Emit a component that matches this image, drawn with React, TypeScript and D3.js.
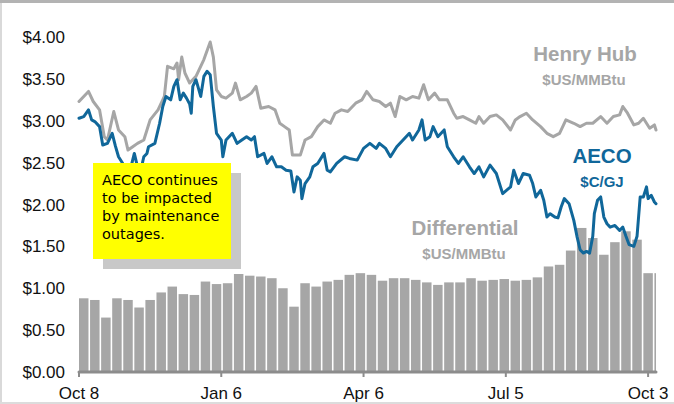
import React from 'react';
import * as d3 from 'd3';

// Time window: Oct 8 2018 to Oct 8 2019 (day offsets from start)
const START = new Date(2018, 9, 8);
const END_DAY = 365;
const xTickDays = [0, 90, 180, 270, 360];
const xTickLabels = ['Oct 8', 'Jan 6', 'Apr 6', 'Jul 5', 'Oct 3'];
const yTicks = [0, 0.5, 1, 1.5, 2, 2.5, 3, 3.5, 4];

// Henry Hub, $US/MMBtu
const hhDays = [0, 6, 9, 13, 16, 18, 22, 25, 29, 31, 34, 37, 41, 43, 45, 50, 54, 56, 60, 62, 63, 65, 67, 70, 74, 79, 83, 85, 87, 90, 93, 97, 99, 102, 106, 109, 112, 115, 120, 124, 127, 130, 133, 135, 140, 143, 147, 151, 155, 159, 162, 166, 170, 175, 179, 182, 186, 190, 194, 197, 200, 203, 207, 211, 215, 218, 221, 225, 228, 233, 237, 239, 243, 247, 251, 253, 256, 260, 264, 268, 273, 276, 279, 283, 287, 292, 296, 300, 304, 308, 313, 317, 321, 325, 330, 334, 338, 342, 344, 347, 351, 354, 357, 361, 364, 365];
const hhPrice = [3.23, 3.35, 3.23, 3.13, 2.81, 2.77, 3.11, 2.89, 2.81, 2.65, 2.69, 2.73, 2.77, 2.89, 3.01, 3.13, 3.29, 3.65, 3.62, 3.69, 3.49, 3.76, 3.57, 3.45, 3.53, 3.73, 3.94, 3.76, 3.37, 3.29, 3.27, 3.33, 3.45, 3.25, 3.29, 3.33, 3.41, 3.15, 3.17, 3.13, 2.97, 2.93, 2.89, 2.59, 2.59, 2.77, 2.81, 2.93, 3.01, 2.97, 3.09, 3.13, 3.11, 3.21, 3.25, 3.35, 3.25, 3.23, 3.17, 3.21, 3.05, 3.29, 3.25, 3.29, 3.27, 3.43, 3.25, 3.33, 3.25, 3.25, 3.09, 3.03, 3.05, 3.01, 2.97, 3.05, 2.97, 3.05, 3.07, 3.01, 2.89, 3.01, 3.05, 3.09, 3.01, 2.93, 2.85, 2.81, 2.85, 3.01, 2.97, 2.93, 2.97, 2.97, 3.05, 2.97, 3.05, 3.07, 3.17, 3.09, 2.95, 2.97, 3.03, 2.91, 2.95, 2.89];

// AECO, $C/GJ
const aecoDays = [0, 3, 6, 8, 10, 13, 15, 18, 21, 23, 25, 27, 29, 32, 35, 37, 39, 41, 43, 44, 48, 51, 53, 55, 58, 60, 62, 64, 66, 68, 70, 71, 72, 74, 77, 79, 81, 83, 85, 87, 90, 91, 93, 97, 100, 103, 106, 109, 111, 113, 117, 119, 122, 125, 128, 131, 134, 136, 138, 140, 141, 143, 146, 148, 151, 155, 157, 159, 163, 168, 171, 176, 180, 184, 188, 190, 194, 197, 201, 205, 209, 211, 215, 217, 219, 222, 224, 227, 231, 233, 237, 240, 243, 247, 250, 253, 256, 260, 264, 268, 273, 275, 278, 281, 285, 287, 289, 292, 294, 296, 298, 301, 303, 305, 307, 310, 313, 315, 317, 319, 321, 323, 325, 326, 328, 330, 331, 332, 334, 336, 339, 342, 344, 346, 348, 351, 353, 355, 357, 359, 360, 362, 364, 365];
const aecoPrice = [3.03, 3.05, 3.13, 3.01, 2.99, 2.93, 2.71, 2.73, 2.85, 2.7, 2.57, 2.51, 2.45, 2.38, 2.61, 2.45, 2.4, 2.57, 2.61, 2.69, 2.73, 2.97, 3.17, 3.29, 3.25, 3.41, 3.49, 3.25, 3.33, 3.27, 3.2, 3.09, 3.41, 3.49, 3.29, 3.53, 3.59, 3.55, 3.17, 2.85, 2.77, 2.57, 2.77, 2.85, 2.73, 2.77, 2.81, 2.77, 2.81, 2.57, 2.61, 2.49, 2.57, 2.45, 2.45, 2.41, 2.4, 2.15, 2.33, 2.29, 2.07, 2.25, 2.33, 2.45, 2.49, 2.61, 2.41, 2.39, 2.49, 2.57, 2.55, 2.53, 2.67, 2.73, 2.67, 2.73, 2.67, 2.57, 2.69, 2.77, 2.85, 2.77, 2.89, 3.01, 2.77, 2.81, 2.93, 2.81, 2.89, 2.69, 2.57, 2.49, 2.57, 2.45, 2.37, 2.45, 2.33, 2.47, 2.37, 2.13, 2.21, 2.41, 2.25, 2.37, 2.35, 2.25, 2.09, 2.17, 2.05, 1.85, 1.89, 1.85, 1.84, 1.97, 2.07, 2.01, 1.81, 1.62, 1.46, 1.42, 1.44, 1.42, 1.62, 1.89, 2.05, 2.09, 1.97, 1.85, 1.77, 1.73, 1.75, 1.69, 1.73, 1.62, 1.52, 1.5, 1.62, 2.09, 2.09, 2.21, 2.07, 2.11, 2.03, 2.01];

// Differential, $US/MMBtu — one value per trading week (Mon–Fri)
const diffWeekly = [0.88, 0.86, 0.65, 0.88, 0.86, 0.77, 0.86, 0.95, 1.02, 0.93, 0.92, 1.08, 1.05, 1.06, 1.17, 1.15, 1.14, 1.12, 1.0, 0.78, 1.06, 1.02, 1.08, 1.1, 1.16, 1.18, 1.16, 1.09, 1.12, 1.12, 1.1, 1.07, 1.04, 1.07, 1.07, 1.12, 1.09, 1.1, 1.11, 1.09, 1.1, 1.13, 1.26, 1.28, 1.45, 1.72, 1.6, 1.4, 1.55, 1.68, 1.58, 1.18, 1.18];

const noteLines = ['AECO continues', 'to be impacted', 'by maintenance', 'outages.'];

const GRAY = '#a6a6a6';
const BLUE = '#10679a';
const FONT = 'Arial, "Liberation Sans", Helvetica, sans-serif';

const day = (d: number) => d3.timeDay.offset(START, d);

export default function App() {
  const W = 674;
  const H = 404;
  const x = d3.scaleTime().domain([START, day(END_DAY)]).range([79, 656]);
  const y = d3.scaleLinear().domain([0, 4]).range([372, 37]);
  const base = y(0);

  const hh = hhDays.map((d, i) => ({ date: day(d), v: hhPrice[i] }));
  const aeco = aecoDays.map((d, i) => ({ date: day(d), v: aecoPrice[i] }));
  const line = d3
    .line<{ date: Date; v: number }>()
    .x((p) => x(p.date))
    .y((p) => y(p.v));

  const bars = diffWeekly.map((v, w) => {
    const s = w * 7;
    const e = Math.min(s + 6, END_DAY);
    const x0 = x(day(s));
    const x1 = x(day(e));
    return { x: x0, w: Math.max(1, x1 - x0), y: y(v), h: base - y(v) };
  });

  return (
    <svg
      width={W}
      height={H}
      style={{ position: 'fixed', left: 0, top: 0, background: '#fff' }}
      fontFamily={FONT}
    >
      <rect x={0} y={0} width={W} height={H} fill="#fff" />
      {/* frame */}
      <rect x={0} y={0} width={W} height={3} fill="#b3b3b3" />
      <rect x={0} y={3} width={2} height={H - 3} fill="#d9d9d9" />
      <rect x={0} y={H - 2} width={W} height={2} fill="#dcdcdc" />

      {/* differential bars */}
      {bars.map((b, i) => (
        <rect key={i} x={b.x} y={b.y} width={b.w} height={b.h} fill={GRAY} />
      ))}

      {/* lines */}
      <path d={line(hh) || ''} fill="none" stroke={GRAY} strokeWidth={3} strokeLinejoin="round" strokeLinecap="round" />
      <path d={line(aeco) || ''} fill="none" stroke={BLUE} strokeWidth={3} strokeLinejoin="round" strokeLinecap="round" />

      {/* x axis */}
      <line x1={x(day(0))} x2={x(day(END_DAY))} y1={base} y2={base} stroke="#8c8c8c" strokeWidth={3} strokeLinecap="round" />
      {xTickDays.map((d, i) => (
        <g key={i} transform={`translate(${x(day(d))},0)`}>
          <line y1={base} y2={base + 5} stroke="#8c8c8c" strokeWidth={2} />
          <text y={399} textAnchor="middle" fontSize={17} fill="#111">
            {xTickLabels[i]}
          </text>
        </g>
      ))}

      {/* y labels */}
      {yTicks.map((t) => (
        <text key={t} x={65} y={y(t)} dy="0.36em" textAnchor="end" fontSize={17} fill="#111">
          {d3.format('$.2f')(t)}
        </text>
      ))}

      {/* series labels */}
      <text x={585} y={61} textAnchor="middle" fontSize={20.5} fontWeight="bold" fill={GRAY}>Henry Hub</text>
      <text x={584} y={85} textAnchor="middle" fontSize={15} fontWeight="bold" fill={GRAY}>$US/MMBtu</text>
      <text x={602} y={163} textAnchor="middle" fontSize={20.5} fontWeight="bold" fill={BLUE}>AECO</text>
      <text x={602} y={187} textAnchor="middle" fontSize={15} fontWeight="bold" fill={BLUE}>$C/GJ</text>
      <text x={465} y={235} textAnchor="middle" fontSize={20.5} fontWeight="bold" fill={GRAY}>Differential</text>
      <text x={464} y={259} textAnchor="middle" fontSize={15} fontWeight="bold" fill={GRAY}>$US/MMBtu</text>

      {/* annotation box */}
      <rect x={103} y={173} width={138} height={96} fill="#c8c8c8" />
      <rect x={93} y={163} width={138} height={96} fill="#ffff00" />
      {noteLines.map((t, i) => (
        <text
          key={i}
          x={102}
          y={184.5 + i * 18}
          fontSize={14.5}
          fontFamily='"Comic Sans MS", "DejaVu Sans", sans-serif'
          fill="#000"
        >
          {t}
        </text>
      ))}
    </svg>
  );
}
